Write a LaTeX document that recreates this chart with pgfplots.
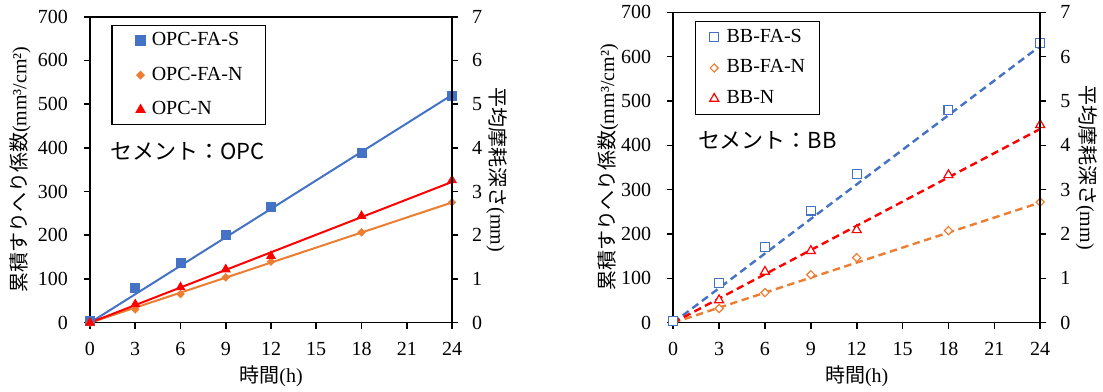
\documentclass[border=0pt]{standalone}
\usepackage{fontspec}
\setmainfont{Liberation Serif}
\newfontfamily\jp{Noto Sans CJK JP}
\usepackage{pgfplots}
\pgfplotsset{compat=1.18}
\definecolor{cblue}{HTML}{4472C4}
\definecolor{corange}{HTML}{ED7D31}
\definecolor{cred}{HTML}{FF0000}
\pgfplotsset{
  common/.style={scale only axis, anchor=south west, xmin=0, xmax=24,
    tick align=outside, major tick length=3pt,
    axis line style={line width=0.8pt, black},
    every tick/.style={line width=0.8pt, black},
    /pgf/number format/assume math mode=true,
    tick label style={font=\fontsize{10}{12}\selectfont},
    label style={font=\fontsize{10}{12}\selectfont},
  },
  main/.style={common, ymin=0, ymax=700, ytick={0,100,...,700},
    xtick={0,3,...,24}, xtick pos=bottom, ytick pos=left,
    yticklabel style={xshift=-4.5pt}, xticklabel style={yshift=-3.4pt}},
  second/.style={common, ymin=0, ymax=7, ytick={0,1,...,7},
    axis y line*=right, hide x axis, yticklabel style={xshift=3.5pt}},
}
\begin{document}
\begin{tikzpicture}
\path[use as bounding box] (0,0) rectangle (551.5pt,195.5pt);
% ---------- left panel ----------
\begin{axis}[main, at={(45pt,34.15pt)}, width=181pt, height=153pt,
  xlabel={{\jp 時間}(h)},
  xlabel style={at={(axis description cs:0.5,-0.174)}, anchor=center},
  ylabel={{\jp 累積すりへり係数}(mm³/cm²)},
  ylabel style={at={(axis description cs:-0.193,0.5)}, anchor=center},
  legend style={at={(0.059,0.973)}, anchor=north west, draw=black, line width=0.6pt,
    inner xsep=0pt, inner ysep=3pt, row sep=8.3pt,
    font=\fontsize{10}{12}\selectfont,
    nodes={inner xsep=0pt, inner ysep=0pt, text height=7pt, text depth=2pt},
    /tikz/every even column/.append style={text width=56.7pt}},
  legend cell align=left,
  legend image code/.code={\path (-14pt,0pt) (5.3pt,0pt); \draw[#1] plot coordinates {(0pt,0pt)};},
]
\addplot[cblue, line width=1pt, forget plot] coordinates {(0,0) (24,521)};
\addplot[corange, line width=1pt, forget plot] coordinates {(0,0) (24,275)};
\addplot[cred, line width=1pt, forget plot] coordinates {(0,0) (24,322)};
\addplot[only marks, mark=square*, mark size=2.25pt, mark options={draw=cblue, fill=cblue}]
  coordinates {(0,4) (3,78.5) (6,137) (9,200.6) (12,265) (18,387.5) (24,519.5)};
\addplot[only marks, mark=square*, mark size=1.3pt, mark options={draw=corange, fill=corange, rotate=45}]
  coordinates {(0,0) (3,30.5) (6,65.6) (9,103.7) (12,139.6) (18,206.7) (24,275.4)};
\addplot[only marks, mark=triangle*, mark size=2.5pt, mark options={draw=cred, fill=cred}]
  coordinates {(0,0) (3,42) (6,81) (9,122) (12,152.5) (18,244) (24,325.7)};
\legend{OPC-FA-S, OPC-FA-N, OPC-N}
\node[anchor=west, inner sep=0pt, font=\jp\fontsize{11}{13}\selectfont] at (rel axis cs:0.056,0.559) {セメント：OPC};
\end{axis}
\begin{axis}[second, at={(45pt,34.15pt)}, width=181pt, height=153pt,
  ylabel={{\jp 平均摩耗深さ}(mm)},
  ylabel style={at={(axis description cs:1.124,0.5)}, anchor=center, rotate=180},
]
\addplot[draw=none, forget plot] coordinates {(0,0) (24,0)};
\end{axis}
% ---------- right panel ----------
\begin{axis}[main, at={(336.6pt,34.15pt)}, width=183.5pt, height=155.2pt,
  xlabel={{\jp 時間}(h)},
  xlabel style={at={(axis description cs:0.5,-0.171)}, anchor=center},
  ylabel={{\jp 累積すりへり係数}(mm³/cm²)},
  ylabel style={at={(axis description cs:-0.178,0.5)}, anchor=center},
  legend style={at={(0.060,0.973)}, anchor=north west, draw=black, line width=0.6pt,
    inner xsep=0pt, inner ysep=3.5pt, row sep=6.35pt,
    font=\fontsize{10}{12}\selectfont,
    nodes={inner xsep=0pt, inner ysep=0pt, text height=7pt, text depth=2pt},
    /tikz/every even column/.append style={text width=46.6pt}},
  legend cell align=left,
  legend image code/.code={\path (-8.9pt,0pt) (5.9pt,0pt); \draw[#1] plot coordinates {(0pt,0pt)};},
]
\addplot[cblue, line width=1.2pt, dash pattern=on 3.7pt off 2.3pt, forget plot] coordinates {(0,0) (24,624)};
\addplot[corange, line width=1.2pt, dash pattern=on 3.7pt off 2.3pt, forget plot] coordinates {(0,0) (24,271)};
\addplot[cred, line width=1.2pt, dash pattern=on 3.7pt off 2.3pt, forget plot] coordinates {(0,0) (24,437)};
\addplot[only marks, mark=square*, mark size=2.2pt, mark options={draw=cblue, fill=white, line width=0.6pt}]
  coordinates {(0,4) (3,90) (6,171) (9,252.6) (12,335) (18,479) (24,631)};
\addplot[only marks, mark=square*, mark size=1.45pt, mark options={draw=corange, fill=white, line width=0.6pt, rotate=45}]
  coordinates {(0,-2) (3,32) (6,68) (9,108) (12,146.6) (18,207.5) (24,272)};
\addplot[only marks, mark=triangle*, mark size=2.6pt, mark options={draw=cred, fill=white, line width=0.6pt}]
  coordinates {(0,-1) (3,51) (6,115) (9,162) (12,209) (18,333) (24,446)};
\legend{BB-FA-S, BB-FA-N, BB-N}
\node[anchor=west, inner sep=0pt, font=\jp\fontsize{11}{13}\selectfont] at (rel axis cs:0.067,0.589) {セメント：BB};
\end{axis}
\begin{axis}[second, at={(336.6pt,34.15pt)}, width=183.5pt, height=155.2pt,
  ylabel={{\jp 平均摩耗深さ}(mm)},
  ylabel style={at={(axis description cs:1.126,0.5)}, anchor=center, rotate=180},
]
\addplot[draw=none, forget plot] coordinates {(0,0) (24,0)};
\end{axis}
\end{tikzpicture}
\end{document}
